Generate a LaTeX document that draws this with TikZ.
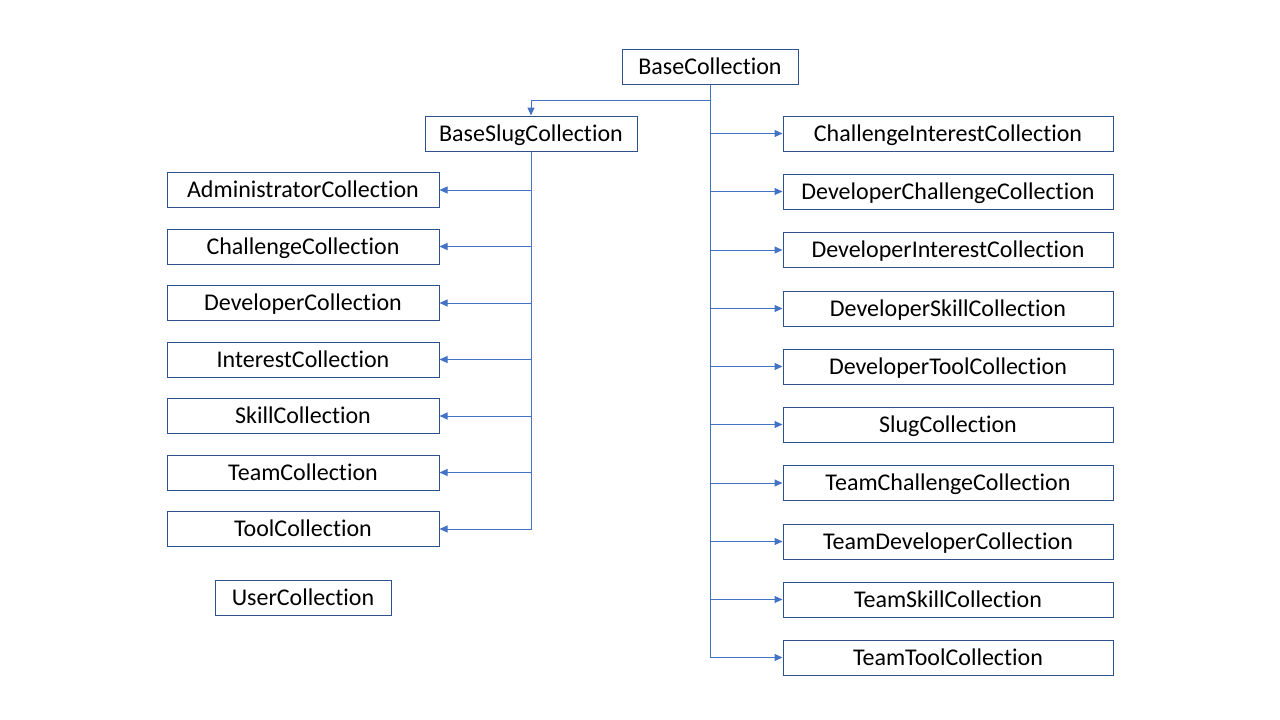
\documentclass[tikz,border=0pt]{standalone}
\usepackage{fontspec}
\setmainfont{Carlito}[Ligatures={NoCommon}]
\usetikzlibrary{arrows.meta}
\definecolor{linkblue}{HTML}{4472C4}
\definecolor{boxblue}{HTML}{2F528F}
\begin{document}
\begin{tikzpicture}[x=1pt,y=-1pt,
  cbox/.style={draw=boxblue,line width=1pt,rectangle,inner sep=0pt,minimum height=35pt,
    font=\fontsize{24}{26}\selectfont,text=black,text height=15.5pt,text depth=0pt},
  lbox/.style={cbox,minimum width=272pt},
  rbox/.style={cbox,minimum width=330pt},
  conn/.style={draw=linkblue,line width=1pt,-{Triangle[length=8pt,width=7pt]}}]
\useasboundingbox (0,0) rectangle (1280,720);
\node[cbox,minimum width=176pt] (base) at (710,66.5) {BaseCollection};
\node[cbox,minimum width=212pt] (slug) at (531,133.5) {BaseSlugCollection};
% left column
\node[lbox] (adm) at (303,190) {AdministratorCollection};
\node[lbox] (cha) at (303,246.5) {ChallengeCollection};
\node[lbox] (dev) at (303,303) {DeveloperCollection};
\node[lbox] (int) at (303,359.5) {InterestCollection};
\node[lbox] (ski) at (303,416) {SkillCollection};
\node[lbox] (tea) at (303,472.5) {TeamCollection};
\node[lbox] (too) at (303,529) {ToolCollection};
\node[cbox,minimum width=176pt] (usr) at (303,597.5) {UserCollection};
% right column
\node[rbox] (r1) at (948,133.5) {ChallengeInterestCollection};
\node[rbox] (r2) at (948,191.5) {DeveloperChallengeCollection};
\node[rbox] (r3) at (948,250) {DeveloperInterestCollection};
\node[rbox] (r4) at (948,308.5) {DeveloperSkillCollection};
\node[rbox] (r5) at (948,366.5) {DeveloperToolCollection};
\node[rbox] (r6) at (948,424.5) {SlugCollection};
\node[rbox] (r7) at (948,483) {TeamChallengeCollection};
\node[rbox] (r8) at (948,541.5) {TeamDeveloperCollection};
\node[rbox] (r9) at (948,599.5) {TeamSkillCollection};
\node[rbox] (r10) at (948,657.5) {TeamToolCollection};
% connectors
\coordinate (j1) at (710,100);
\draw[conn] (base.south) -- (j1) -| (slug.north);
\foreach \n in {r1,r2,r3,r4,r5,r6,r7,r8,r9,r10}
  \draw[conn] (base.south) |- (\n.west);
\foreach \n in {adm,cha,dev,int,ski,tea,too}
  \draw[conn] (slug.south) |- (\n.east);
\end{tikzpicture}
\end{document}
